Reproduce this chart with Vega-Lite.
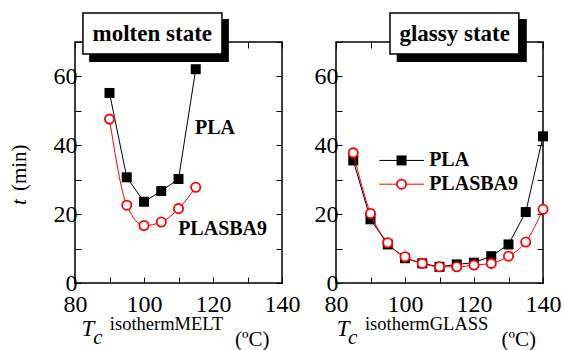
{
  "$schema": "https://vega.github.io/schema/vega-lite/v6.json",
  "background": "white",
  "padding": {"left": 8, "top": 11, "right": 0, "bottom": 0},
  "spacing": 54,
  "bounds": "flush",
  "datasets": {
    "molten": [
      {"T": 90, "t": 55.2, "sample": "PLA"},
      {"T": 95, "t": 30.7, "sample": "PLA"},
      {"T": 100, "t": 23.6, "sample": "PLA"},
      {"T": 105, "t": 26.7, "sample": "PLA"},
      {"T": 110, "t": 30.2, "sample": "PLA"},
      {"T": 115, "t": 62.1, "sample": "PLA"},
      {"T": 90, "t": 47.6, "sample": "PLASBA9"},
      {"T": 95, "t": 22.6, "sample": "PLASBA9"},
      {"T": 100, "t": 16.7, "sample": "PLASBA9"},
      {"T": 105, "t": 17.7, "sample": "PLASBA9"},
      {"T": 110, "t": 21.6, "sample": "PLASBA9"},
      {"T": 115, "t": 27.8, "sample": "PLASBA9"}
    ],
    "glassy": [
      {"T": 85, "t": 35.6, "sample": "PLA"},
      {"T": 90, "t": 18.5, "sample": "PLA"},
      {"T": 95, "t": 11.2, "sample": "PLA"},
      {"T": 100, "t": 7.2, "sample": "PLA"},
      {"T": 105, "t": 5.7, "sample": "PLA"},
      {"T": 110, "t": 4.7, "sample": "PLA"},
      {"T": 115, "t": 5.4, "sample": "PLA"},
      {"T": 120, "t": 5.9, "sample": "PLA"},
      {"T": 125, "t": 7.8, "sample": "PLA"},
      {"T": 130, "t": 11.2, "sample": "PLA"},
      {"T": 135, "t": 20.6, "sample": "PLA"},
      {"T": 140, "t": 42.6, "sample": "PLA"},
      {"T": 85, "t": 37.8, "sample": "PLASBA9"},
      {"T": 90, "t": 20.2, "sample": "PLASBA9"},
      {"T": 95, "t": 11.7, "sample": "PLASBA9"},
      {"T": 100, "t": 7.6, "sample": "PLASBA9"},
      {"T": 105, "t": 5.7, "sample": "PLASBA9"},
      {"T": 110, "t": 4.7, "sample": "PLASBA9"},
      {"T": 115, "t": 4.7, "sample": "PLASBA9"},
      {"T": 120, "t": 5.2, "sample": "PLASBA9"},
      {"T": 125, "t": 5.7, "sample": "PLASBA9"},
      {"T": 130, "t": 7.8, "sample": "PLASBA9"},
      {"T": 135, "t": 11.9, "sample": "PLASBA9"},
      {"T": 140, "t": 21.4, "sample": "PLASBA9"}
    ]
  },
  "config": {
    "font": "Liberation Serif",
    "view": {"stroke": "black", "strokeWidth": 1.5},
    "axis": {
      "tickColor": "black",
      "tickSize": -6,
      "tickWidth": 1,
      "domain": false,
      "grid": false
    },
    "text": {"font": "Liberation Serif", "color": "black"}
  },
  "hconcat": [
    {
      "width": 207,
      "height": 241,
      "resolve": {"axis": {"x": "independent", "y": "independent"}},
      "layer": [
        {
          "data": {"name": "molten"},
          "transform": [{"filter": "datum.sample == 'PLA'"}],
          "mark": {"type": "line", "color": "black", "strokeWidth": 1},
          "encoding": {
            "x": {"field": "T", "type": "quantitative", "scale": {"domain": [80, 140], "nice": false},
              "axis": {"orient": "bottom", "labelFont": "Liberation Serif", "labelFontSize": 24, "labelColor": "black", "labelPadding": 15, "labelFlush": false, "labelOverlap": false, "values": [80, 90, 100, 110, 120, 130, 140], "labelExpr": "datum.value % 20 == 0 ? datum.label : ''", "title": null}},
            "y": {"field": "t", "type": "quantitative", "scale": {"domain": [0, 70], "nice": false},
              "axis": {"orient": "left", "labelFont": "Liberation Serif", "labelFontSize": 24, "labelColor": "black", "labelPadding": 4, "labelFlush": false, "labelOverlap": false, "values": [0, 10, 20, 30, 40, 50, 60, 70], "labelExpr": "datum.value % 20 == 0 ? datum.label : ''", "title": null}}
          }
        },
        {
          "data": {"name": "molten"},
          "mark": {"type": "point", "opacity": 0},
          "encoding": {
            "x": {"field": "T", "type": "quantitative", "axis": {"orient": "top", "values": [80, 90, 100, 110, 120, 130, 140], "labels": false, "title": null}},
            "y": {"field": "t", "type": "quantitative", "axis": {"orient": "right", "values": [0, 10, 20, 30, 40, 50, 60, 70], "labels": false, "title": null}}
          }
        },
        {
          "data": {"name": "molten"},
          "transform": [{"filter": "datum.sample == 'PLA'"}],
          "mark": {"type": "point", "shape": "square", "filled": true, "color": "black", "size": 100, "opacity": 1},
          "encoding": {
            "x": {"field": "T", "type": "quantitative", "axis": null},
            "y": {"field": "t", "type": "quantitative", "axis": null}
          }
        },
        {
          "data": {"name": "molten"},
          "transform": [{"filter": "datum.sample == 'PLASBA9'"}],
          "mark": {"type": "line", "color": "#ff0000", "strokeWidth": 1, "interpolate": "monotone"},
          "encoding": {
            "x": {"field": "T", "type": "quantitative", "axis": null},
            "y": {"field": "t", "type": "quantitative", "axis": null}
          }
        },
        {
          "data": {"name": "molten"},
          "transform": [{"filter": "datum.sample == 'PLASBA9'"}],
          "mark": {"type": "point", "shape": "circle", "filled": true, "fill": "white", "stroke": "#ff0000", "strokeWidth": 1.8, "size": 85, "opacity": 1},
          "encoding": {
            "x": {"field": "T", "type": "quantitative", "axis": null},
            "y": {"field": "t", "type": "quantitative", "axis": null}
          }
        },
        {
          "data": {"values": [{}]},
          "mark": {"type": "text", "text": "PLA", "fontWeight": "bold", "fontSize": 20, "align": "left", "baseline": "middle"},
          "encoding": {
            "x": {"datum": 114.8, "type": "quantitative", "axis": null},
            "y": {"datum": 45.1, "type": "quantitative", "axis": null}
          }
        },
        {
          "data": {"values": [{}]},
          "mark": {"type": "text", "text": "PLASBA9", "fontWeight": "bold", "fontSize": 20, "align": "left", "baseline": "middle"},
          "encoding": {
            "x": {"datum": 109.9, "type": "quantitative", "axis": null},
            "y": {"datum": 15.8, "type": "quantitative", "axis": null}
          }
        },
        {
          "data": {"values": [{}]},
          "mark": {"type": "rect", "color": "black", "opacity": 1},
          "encoding": {
            "x": {"datum": 84.1, "type": "quantitative", "axis": null},
            "x2": {"datum": 124.6},
            "y": {"datum": 76.7, "type": "quantitative", "axis": null},
            "y2": {"datum": 64.2}
          }
        },
        {
          "data": {"values": [{}]},
          "mark": {"type": "rect", "fill": "white", "stroke": "black", "strokeWidth": 1.5, "opacity": 1},
          "encoding": {
            "x": {"datum": 82.3, "type": "quantitative", "axis": null},
            "x2": {"datum": 122.6},
            "y": {"datum": 78.4, "type": "quantitative", "axis": null},
            "y2": {"datum": 66.5}
          }
        },
        {
          "data": {"values": [{}]},
          "mark": {"type": "text", "text": "molten state", "fontWeight": "bold", "fontSize": 23, "align": "center", "baseline": "alphabetic"},
          "encoding": {
            "x": {"datum": 102.4, "type": "quantitative", "axis": null},
            "y": {"datum": 70.3, "type": "quantitative", "axis": null}
          }
        },
        {
          "data": {"values": [{}]},
          "mark": {"type": "text", "text": "T", "fontStyle": "italic", "fontSize": 23, "align": "left", "baseline": "alphabetic"},
          "encoding": {
            "x": {"datum": 81.9, "type": "quantitative", "axis": null},
            "y": {"datum": -15.25, "type": "quantitative", "axis": null}
          }
        },
        {
          "data": {"values": [{}]},
          "mark": {"type": "text", "text": "c", "fontStyle": "italic", "fontSize": 21, "align": "left", "baseline": "alphabetic"},
          "encoding": {
            "x": {"datum": 85.3, "type": "quantitative", "axis": null},
            "y": {"datum": -17.7, "type": "quantitative", "axis": null}
          }
        },
        {
          "data": {"values": [{}]},
          "mark": {"type": "text", "text": "isothermMELT", "fontSize": 18.5, "align": "left", "baseline": "alphabetic"},
          "encoding": {
            "x": {"datum": 90.1, "type": "quantitative", "axis": null},
            "y": {"datum": -13.65, "type": "quantitative", "axis": null}
          }
        },
        {
          "data": {"values": [{}]},
          "mark": {"type": "text", "text": "(ºC)", "fontSize": 21, "align": "left", "baseline": "alphabetic"},
          "encoding": {
            "x": {"datum": 126.4, "type": "quantitative", "axis": null},
            "y": {"datum": -18.3, "type": "quantitative", "axis": null}
          }
        },
        {
          "data": {"values": [{}]},
          "mark": {"type": "text", "text": "t", "fontStyle": "italic", "fontSize": 21, "align": "left", "baseline": "middle", "angle": 270},
          "encoding": {
            "x": {"datum": 64.1, "type": "quantitative", "axis": null},
            "y": {"datum": 22.65, "type": "quantitative", "axis": null}
          }
        },
        {
          "data": {"values": [{}]},
          "mark": {"type": "text", "text": "(min)", "fontSize": 21, "align": "left", "baseline": "middle", "angle": 270},
          "encoding": {
            "x": {"datum": 64.1, "type": "quantitative", "axis": null},
            "y": {"datum": 26.7, "type": "quantitative", "axis": null}
          }
        }
      ]
    },
    {
      "width": 207,
      "height": 241,
      "resolve": {"axis": {"x": "independent", "y": "independent"}},
      "layer": [
        {
          "data": {"name": "glassy"},
          "transform": [{"filter": "datum.sample == 'PLA'"}],
          "mark": {"type": "line", "color": "black", "strokeWidth": 1},
          "encoding": {
            "x": {"field": "T", "type": "quantitative", "scale": {"domain": [80, 140], "nice": false},
              "axis": {"orient": "bottom", "labelFont": "Liberation Serif", "labelFontSize": 24, "labelColor": "black", "labelPadding": 15, "labelFlush": false, "labelOverlap": false, "values": [80, 90, 100, 110, 120, 130, 140], "labelExpr": "datum.value % 20 == 0 ? datum.label : ''", "title": null}},
            "y": {"field": "t", "type": "quantitative", "scale": {"domain": [0, 70], "nice": false},
              "axis": {"orient": "left", "labelFont": "Liberation Serif", "labelFontSize": 24, "labelColor": "black", "labelPadding": 4, "labelFlush": false, "labelOverlap": false, "values": [0, 10, 20, 30, 40, 50, 60, 70], "labelExpr": "datum.value % 20 == 0 ? datum.label : ''", "title": null}}
          }
        },
        {
          "data": {"name": "glassy"},
          "mark": {"type": "point", "opacity": 0},
          "encoding": {
            "x": {"field": "T", "type": "quantitative", "axis": {"orient": "top", "values": [80, 90, 100, 110, 120, 130, 140], "labels": false, "title": null}},
            "y": {"field": "t", "type": "quantitative", "axis": {"orient": "right", "values": [0, 10, 20, 30, 40, 50, 60, 70], "labels": false, "title": null}}
          }
        },
        {
          "data": {"name": "glassy"},
          "transform": [{"filter": "datum.sample == 'PLA'"}],
          "mark": {"type": "point", "shape": "square", "filled": true, "color": "black", "size": 100, "opacity": 1},
          "encoding": {
            "x": {"field": "T", "type": "quantitative", "axis": null},
            "y": {"field": "t", "type": "quantitative", "axis": null}
          }
        },
        {
          "data": {"name": "glassy"},
          "transform": [{"filter": "datum.sample == 'PLASBA9'"}],
          "mark": {"type": "line", "color": "#ff0000", "strokeWidth": 1, "interpolate": "monotone"},
          "encoding": {
            "x": {"field": "T", "type": "quantitative", "axis": null},
            "y": {"field": "t", "type": "quantitative", "axis": null}
          }
        },
        {
          "data": {"name": "glassy"},
          "transform": [{"filter": "datum.sample == 'PLASBA9'"}],
          "mark": {"type": "point", "shape": "circle", "filled": true, "fill": "white", "stroke": "#ff0000", "strokeWidth": 1.8, "size": 85, "opacity": 1},
          "encoding": {
            "x": {"field": "T", "type": "quantitative", "axis": null},
            "y": {"field": "t", "type": "quantitative", "axis": null}
          }
        },
        {
          "data": {"values": [{}]},
          "mark": {"type": "rule", "color": "black", "strokeWidth": 1},
          "encoding": {
            "x": {"datum": 92.55, "type": "quantitative", "axis": null},
            "x2": {"datum": 105.5},
            "y": {"datum": 35.6, "type": "quantitative", "axis": null}
          }
        },
        {
          "data": {"values": [{}]},
          "mark": {"type": "point", "shape": "square", "filled": true, "color": "black", "size": 100, "opacity": 1},
          "encoding": {
            "x": {"datum": 99.0, "type": "quantitative", "axis": null},
            "y": {"datum": 35.6, "type": "quantitative", "axis": null}
          }
        },
        {
          "data": {"values": [{}]},
          "mark": {"type": "rule", "color": "#ff0000", "strokeWidth": 1},
          "encoding": {
            "x": {"datum": 92.55, "type": "quantitative", "axis": null},
            "x2": {"datum": 105.5},
            "y": {"datum": 28.7, "type": "quantitative", "axis": null}
          }
        },
        {
          "data": {"values": [{}]},
          "mark": {"type": "point", "shape": "circle", "filled": true, "fill": "white", "stroke": "#ff0000", "strokeWidth": 1.8, "size": 85, "opacity": 1},
          "encoding": {
            "x": {"datum": 99.0, "type": "quantitative", "axis": null},
            "y": {"datum": 28.7, "type": "quantitative", "axis": null}
          }
        },
        {
          "data": {"values": [{}]},
          "mark": {"type": "text", "text": "PLA", "fontWeight": "bold", "fontSize": 20, "align": "left", "baseline": "middle"},
          "encoding": {
            "x": {"datum": 107.0, "type": "quantitative", "axis": null},
            "y": {"datum": 35.6, "type": "quantitative", "axis": null}
          }
        },
        {
          "data": {"values": [{}]},
          "mark": {"type": "text", "text": "PLASBA9", "fontWeight": "bold", "fontSize": 20, "align": "left", "baseline": "middle"},
          "encoding": {
            "x": {"datum": 107.0, "type": "quantitative", "axis": null},
            "y": {"datum": 28.7, "type": "quantitative", "axis": null}
          }
        },
        {
          "data": {"values": [{}]},
          "mark": {"type": "rect", "color": "black", "opacity": 1},
          "encoding": {
            "x": {"datum": 97.6, "type": "quantitative", "axis": null},
            "x2": {"datum": 135.3},
            "y": {"datum": 76.7, "type": "quantitative", "axis": null},
            "y2": {"datum": 64.2}
          }
        },
        {
          "data": {"values": [{}]},
          "mark": {"type": "rect", "fill": "white", "stroke": "black", "strokeWidth": 1.5, "opacity": 1},
          "encoding": {
            "x": {"datum": 95.65, "type": "quantitative", "axis": null},
            "x2": {"datum": 133.0},
            "y": {"datum": 78.4, "type": "quantitative", "axis": null},
            "y2": {"datum": 66.5}
          }
        },
        {
          "data": {"values": [{}]},
          "mark": {"type": "text", "text": "glassy state", "fontWeight": "bold", "fontSize": 23, "align": "center", "baseline": "alphabetic"},
          "encoding": {
            "x": {"datum": 114.4, "type": "quantitative", "axis": null},
            "y": {"datum": 70.3, "type": "quantitative", "axis": null}
          }
        },
        {
          "data": {"values": [{}]},
          "mark": {"type": "text", "text": "T", "fontStyle": "italic", "fontSize": 23, "align": "left", "baseline": "alphabetic"},
          "encoding": {
            "x": {"datum": 80.2, "type": "quantitative", "axis": null},
            "y": {"datum": -15.25, "type": "quantitative", "axis": null}
          }
        },
        {
          "data": {"values": [{}]},
          "mark": {"type": "text", "text": "c", "fontStyle": "italic", "fontSize": 21, "align": "left", "baseline": "alphabetic"},
          "encoding": {
            "x": {"datum": 83.5, "type": "quantitative", "axis": null},
            "y": {"datum": -17.7, "type": "quantitative", "axis": null}
          }
        },
        {
          "data": {"values": [{}]},
          "mark": {"type": "text", "text": "isothermGLASS", "fontSize": 18.5, "align": "left", "baseline": "alphabetic"},
          "encoding": {
            "x": {"datum": 88.4, "type": "quantitative", "axis": null},
            "y": {"datum": -13.65, "type": "quantitative", "axis": null}
          }
        },
        {
          "data": {"values": [{}]},
          "mark": {"type": "text", "text": "(ºC)", "fontSize": 21, "align": "left", "baseline": "alphabetic"},
          "encoding": {
            "x": {"datum": 128.0, "type": "quantitative", "axis": null},
            "y": {"datum": -18.3, "type": "quantitative", "axis": null}
          }
        }
      ]
    }
  ]
}
